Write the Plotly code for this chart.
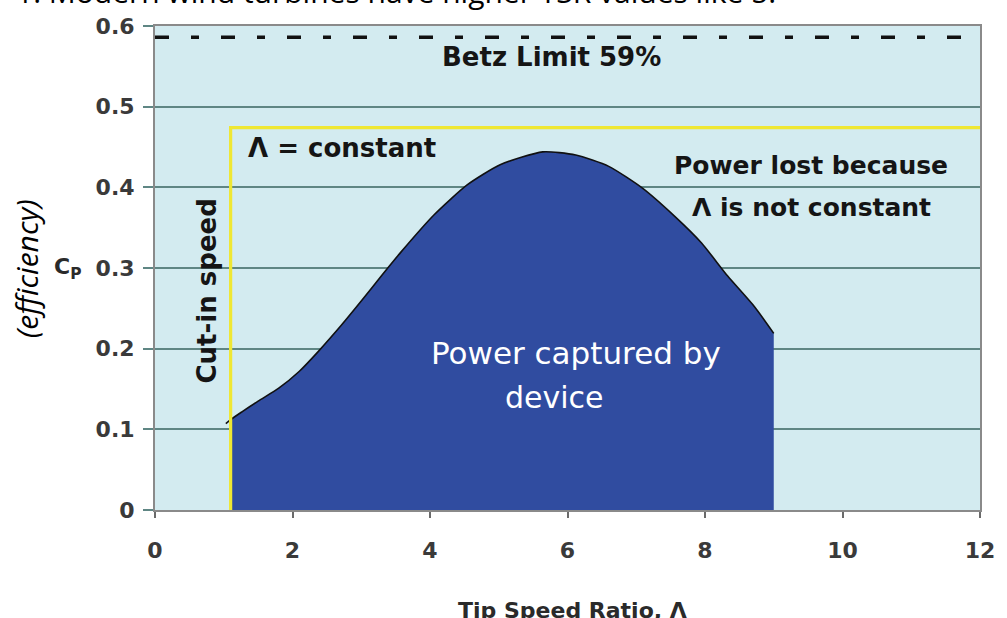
import plotly.graph_objects as go

# ---------------- data ----------------
x_ticks = [0, 2, 4, 6, 8, 10, 12]
x_tick_labels = ["0", "2", "4", "6", "8", "10", "12"]
y_ticks = [0, 0.1, 0.2, 0.3, 0.4, 0.5, 0.6]
y_tick_labels = ["0", "0.1", "0.2", "0.3", "0.4", "0.5", "0.6"]

# Cp curve
tsr = [1.03, 1.1, 1.27, 1.5, 1.8, 2.1, 2.38, 2.7, 3.0, 3.3, 3.58, 4.06, 4.54,
       5.02, 5.64, 6.12, 6.6, 7.09, 7.56, 7.95, 8.33, 8.72, 9.0]
cp = [0.107, 0.112, 0.122, 0.135, 0.151, 0.172, 0.197, 0.228, 0.259, 0.291,
      0.320, 0.366, 0.403, 0.428, 0.444, 0.440, 0.426, 0.399, 0.364, 0.331,
      0.290, 0.252, 0.219]

betz_limit = 0.586
cut_in_tsr = 1.1
constant_cp = 0.474
x_range = [0, 12]
y_range = [0, 0.6]

# ---------------- layout constants ----------------
W, H = 1007, 618
L, R, T, B = 155, 19, 26, 108
PW, PH = W - L - R, H - T - B


def px(xp):
    return (xp - L) / PW


def py(yp):
    return (H - B - yp) / PH


BOLD = "DejaVu Sans"
fig = go.Figure()

# filled area (starts at the cut-in speed)
fig.add_trace(go.Scatter(
    x=tsr[1:], y=cp[1:], mode="lines", fill="tozeroy",
    fillcolor="#304CA0", line=dict(color="rgba(0,0,0,0)", width=0, shape="spline", smoothing=0.6),
    hoverinfo="skip", showlegend=False))
# black outline of the curve
fig.add_trace(go.Scatter(
    x=tsr, y=cp, mode="lines",
    line=dict(color="#111111", width=1.6, shape="spline", smoothing=0.6),
    hoverinfo="skip", showlegend=False))
# yellow constant-TSR line
fig.add_trace(go.Scatter(
    x=[cut_in_tsr, cut_in_tsr, x_range[1]], y=[y_range[0], constant_cp, constant_cp],
    mode="lines", line=dict(color="#EFE733", width=3.2),
    hoverinfo="skip", showlegend=False))
# Betz limit dashed line
fig.add_trace(go.Scatter(
    x=x_range, y=[betz_limit, betz_limit], mode="lines",
    line=dict(color="#111111", width=3.5, dash="14px,22px,8px,22px"),
    hoverinfo="skip", showlegend=False))

grid_col = "#5F8684"
fig.update_xaxes(
    range=x_range, tickvals=x_ticks, ticktext=x_tick_labels,
    showgrid=False, zeroline=False,
    showline=True, linecolor="#8A8A8A", linewidth=2, mirror=True,
    ticks="outside", ticklen=6, tickwidth=1.5, tickcolor="#6A6A6A",
    ticklabelstandoff=14,
    tickfont=dict(family=BOLD, size=22, color="#3A3A3A", weight="bold"),
)
fig.update_yaxes(
    range=y_range, tickvals=y_ticks, ticktext=y_tick_labels,
    showgrid=True, gridcolor=grid_col, gridwidth=2.2, zeroline=False,
    showline=True, linecolor="#8A8A8A", linewidth=2, mirror=True,
    ticks="outside", ticklen=10, tickwidth=2, tickcolor=grid_col,
    ticklabelstandoff=4,
    tickfont=dict(family=BOLD, size=22, color="#3A3A3A", weight="bold"),
)

ann = []


def add(text, x, y, size, color="#151515", bold=True, angle=0, xanchor="center",
        family=BOLD, italic=False):
    ann.append(dict(
        text=text, x=px(x), y=py(y), xref="paper", yref="paper",
        showarrow=False, xanchor=xanchor, yanchor="middle", textangle=angle,
        font=dict(family=family, size=size, color=color,
                  weight="bold" if bold else "normal",
                  style="italic" if italic else "normal")))


add("1. Modern wind turbines have higher TSR values like 5.", 13, -8, 30,
    color="#000000", bold=False, xanchor="left", family="Open Sans")
add("(efficiency)", 25, 269, 30, color="#000000", bold=False, angle=-90,
    family="Open Sans", italic=True)
add("C<sub>P</sub>", 67, 268, 22, color="#2A2A2A")
add("Tip Speed Ratio, Λ", 577, 610, 22, color="#2A2A2A")
add("Betz Limit 59%", 555, 57, 26)
add("Λ = constant", 247, 148, 26, xanchor="left")
add("Power lost because", 817, 165, 25)
add("Λ is not constant", 818, 207, 25)
add("Power captured by", 580, 353, 31, color="#FFFFFF", bold=False)
add("device", 558, 397, 30, color="#FFFFFF", bold=False)
add("Cut-in speed", 208, 291, 26, angle=-90)

fig.update_layout(
    width=W, height=H,
    margin=dict(l=L, r=R, t=T, b=B, pad=0),
    paper_bgcolor="#FFFFFF", plot_bgcolor="#D3EBF0",
    annotations=ann, showlegend=False,
)

fig.write_html("out.html", config={"displayModeBar": False},
               post_script="document.body.style.margin='0';document.body.style.overflow='hidden';")
